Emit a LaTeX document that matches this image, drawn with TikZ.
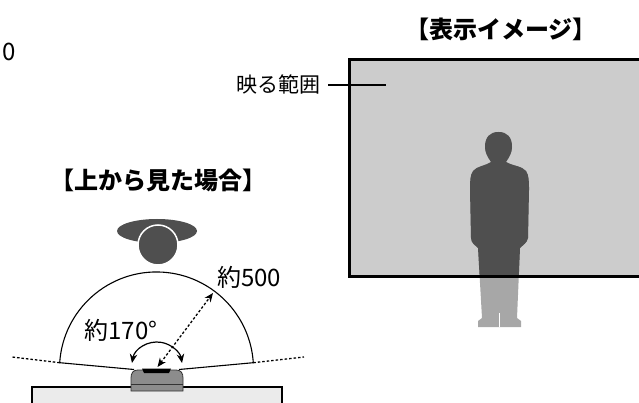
\documentclass[tikz,border=0pt]{standalone}
\usepackage{fontspec}
\setmainfont{Noto Sans CJK JP}
\usetikzlibrary{arrows.meta}
\definecolor{screenfill}{HTML}{CCCCCC}
\definecolor{figdark}{HTML}{4F4F4F}
\definecolor{figlight}{HTML}{A7A7A7}
\definecolor{camfill}{HTML}{8C8C8C}
\definecolor{wallfill}{HTML}{EBEBEB}
% outline of the standing person
\newcommand{\standingfig}{(491,162) .. controls (487,156) and (485,152) .. (485,147)
  .. controls (485,137) and (490,132) .. (498.5,132)
  .. controls (507,132) and (512,137) .. (512,147)
  .. controls (512,152) and (510,156) .. (506,162)
  .. controls (513,166) and (522,166) .. (526,171)
  .. controls (529,175) and (529,182) .. (529,190)
  -- (528,238) .. controls (527,243) and (523,245) .. (520,248)
  -- (517,318) -- (521,321) -- (521,327) -- (478,327) -- (478,321) -- (482,318)
  -- (478,248) .. controls (475,245) and (471,243) .. (471,238)
  -- (470,190) .. controls (470,182) and (470,175) .. (473,171)
  .. controls (477,166) and (485,166) .. (491,162) -- cycle}

\begin{document}
\begin{tikzpicture}[x=1pt,y=-1pt,>={Stealth[length=9pt,width=7.5pt]},
  lbltext/.style={inner sep=0pt,font=\fontsize{21}{21}\selectfont},
  numtext/.style={inner sep=0pt,font=\fontsize{24}{24}\selectfont},
  headtext/.style={inner sep=0pt,font=\fontsize{24}{24}\selectfont\bfseries},
  dots/.style={line width=1.3pt,dash pattern=on 2.5pt off 2pt}]
\useasboundingbox (0,0) rectangle (639,403);
\clip (0,0) rectangle (639,403);

\node[numtext,anchor=east] (cut) at (16,52) {0};
\node[headtext] (dispview) at (501,29) {【表示イメージ】};
\node[headtext] (topview) at (158,180) {【上から見た場合】};

% screen with the person standing in front
\coordinate (scrtl) at (349,60);
\coordinate (scrbr) at (700,276);
\fill[screenfill] (scrtl) rectangle (scrbr);
\fill[figlight] \standingfig;
\begin{scope}
  \clip (scrtl) rectangle (scrbr);
  \fill[figdark] \standingfig;
\end{scope}
\draw[white,line width=0.6pt] (499.5,313) -- (499.5,327);
\draw[line width=3pt] (scrtl) rectangle (scrbr);

\node[lbltext] (range) at (278,85) {映る範囲};
\coordinate (rangeend) at (386,85);
\draw[line width=1.3pt] ([xshift=8pt]range.east) -- (rangeend);

% seen from above
\fill[figdark] (157,231) ellipse [x radius=40,y radius=12];
\filldraw[fill=figdark,draw=white,line width=1.5pt] (158,245) circle [radius=20];

\draw[line width=1.1pt] (134,369.5) -- (59.7,362.7) arc[start angle=-176.3,end angle=-3.7,radius=97] -- (179,369.5);
\draw[dots] (59.7,362.7) -- (12,357);
\draw[dots] (253.3,362.7) -- (304,357);

\filldraw[fill=wallfill,line width=1.6pt] (32,387) rectangle (282,420);
\filldraw[fill=camfill,draw=black!80,line width=0.8pt] (131,391) -- (131,378)
  .. controls (131,373) and (133,370) .. (138,370) -- (176,370)
  .. controls (181,370) and (183,373) .. (183,378) -- (183,391) -- cycle;
\draw[black!80,line width=0.8pt] (131,384) -- (183,384);
\fill (142,368.5) -- (171,368.5) -- (169,373) -- (144,373) -- cycle;

\draw[<->,line width=1.2pt] (132,363) arc[start angle=-170,end angle=-10,radius=25.4];
\draw[<->,dots] (157.5,367) -- (213,293);

\node[numtext] (angle) at (121,330) {約170°};
\node[numtext] (dist) at (249,277) {約500};
\end{tikzpicture}
\end{document}
